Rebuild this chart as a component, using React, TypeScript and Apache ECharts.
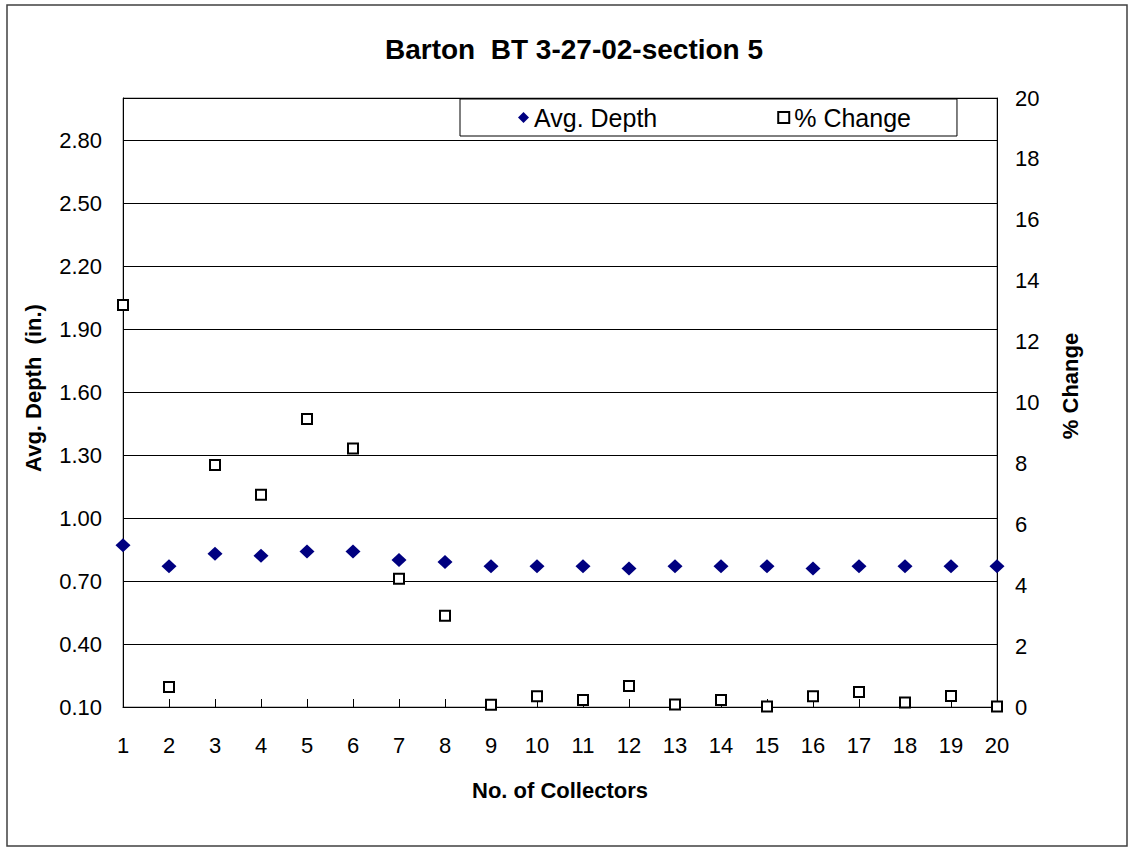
import React, { useEffect, useRef } from "react";
import * as echarts from "echarts";

const collectors = ["1","2","3","4","5","6","7","8","9","10","11","12","13","14","15","16","17","18","19","20"];
const avgDepth = [0.87,0.77,0.83,0.82,0.84,0.84,0.80,0.79,0.77,0.77,0.77,0.76,0.77,0.77,0.77,0.76,0.77,0.77,0.77,0.77];
const pctChange = [13.2,0.66,7.95,6.97,9.46,8.49,4.21,3.0,0.07,0.35,0.23,0.69,0.08,0.23,0.02,0.35,0.49,0.15,0.36,0.02];
const titleText = "Barton  BT 3-27-02-section 5";
const leftName = "Avg. Depth  (in.)";
const rightName = "% Change";
const xName = "No. of Collectors";

const FONT = "Liberation Sans, Arial, sans-serif";

export default function App() {
  const ref = useRef<HTMLDivElement>(null);
  useEffect(() => {
    if (!ref.current) return;
    const chart = echarts.init(ref.current, undefined, { renderer: "svg" });
    chart.setOption({
      animation: false,
      backgroundColor: "#ffffff",
      textStyle: { fontFamily: FONT },
      graphic: [
        { type: "rect", shape: { x: 7, y: 5, width: 1120, height: 841 }, style: { fill: "none", stroke: "#404040", lineWidth: 1.5 }, silent: true, z: -10 },
        { type: "text", x: 574, y: 49, style: { text: titleText, fontFamily: FONT, fontSize: 28, fontWeight: "bold", fill: "#000", textAlign: "center", textVerticalAlign: "middle" } },
        { type: "text", x: 33, y: 388, rotation: Math.PI / 2, style: { text: leftName, fontFamily: FONT, fontSize: 22, fontWeight: "bold", fill: "#000", textAlign: "center", textVerticalAlign: "middle" } },
        { type: "text", x: 1070, y: 386, rotation: Math.PI / 2, style: { text: rightName, fontFamily: FONT, fontSize: 22, fontWeight: "bold", fill: "#000", textAlign: "center", textVerticalAlign: "middle" } },
        { type: "text", x: 560, y: 790, style: { text: xName, fontFamily: FONT, fontSize: 22, fontWeight: "bold", fill: "#000", textAlign: "center", textVerticalAlign: "middle" } },
      ],
      legend: {
        left: 460,
        top: 99,
        orient: "horizontal",
        backgroundColor: "#fff",
        borderColor: "#000",
        borderWidth: 1,
        padding: [6, 46, 6, 58],
        itemGap: 120,
        itemWidth: 11,
        itemHeight: 11,
        textStyle: { fontFamily: FONT, fontSize: 25, color: "#000" },
        data: ["Avg. Depth", "% Change"],
        z: 10,
      },
      grid: { left: 123, right: 133, top: 98, bottom: 141, show: true, borderColor: "#808080", borderWidth: 1, containLabel: false },
      xAxis: {
        type: "category",
        data: collectors,
        boundaryGap: false,
        axisLine: { lineStyle: { color: "#000", width: 1 } },
        axisTick: { show: true, inside: true, length: 8, alignWithLabel: true, lineStyle: { color: "#000" } },
        axisLabel: { color: "#000", fontSize: 22, fontFamily: FONT, margin: 27, interval: 0 },
        splitLine: { show: false },
      },
      yAxis: [
        {
          type: "value",
          min: 0.1,
          max: 3.0,
          interval: 0.3,
          axisLine: { show: true, lineStyle: { color: "#000", width: 1 } },
          axisTick: { show: false },
          axisLabel: {
            color: "#000", fontSize: 22, fontFamily: FONT, margin: 21, showMaxLabel: false,
            formatter: (v: number) => (v > 2.9 ? "" : v.toFixed(2)),
          },
          splitLine: { show: true, lineStyle: { color: "#000", width: 1 } },
        },
        {
          type: "value",
          min: 0,
          max: 20,
          interval: 2,
          position: "right",
          axisLine: { show: true, lineStyle: { color: "#000", width: 1 } },
          axisTick: { show: false },
          axisLabel: { color: "#000", fontSize: 22, fontFamily: FONT, margin: 18 },
          splitLine: { show: false },
        },
      ],
      series: [
        {
          name: "Avg. Depth",
          type: "scatter",
          yAxisIndex: 0,
          data: avgDepth,
          symbol: "diamond",
          symbolSize: [15, 14],
          itemStyle: { color: "#000080", opacity: 1 },
          z: 3,
        },
        {
          name: "% Change",
          type: "scatter",
          yAxisIndex: 1,
          data: pctChange,
          symbol: "rect",
          symbolSize: 10,
          itemStyle: { color: "#ffffff", borderColor: "#000", borderWidth: 2, opacity: 1 },
          z: 4,
        },
      ],
    });
    return () => chart.dispose();
  }, []);
  return <div ref={ref} style={{ position: "fixed", left: 0, top: 0, width: 1130, height: 848 }} />;
}
